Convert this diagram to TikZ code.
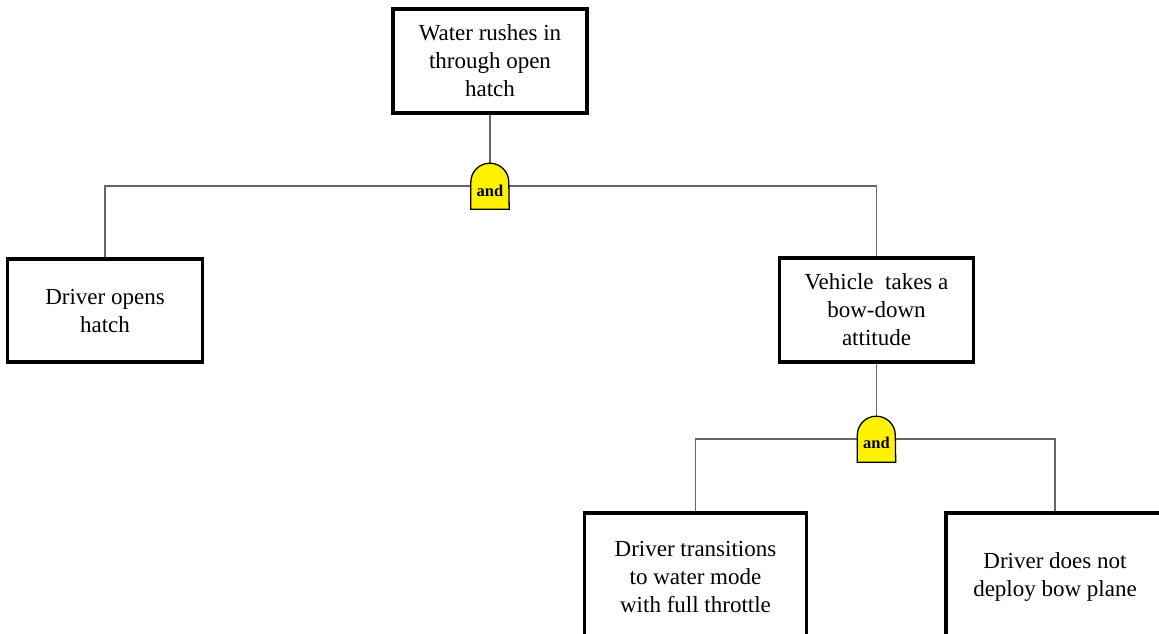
\documentclass[tikz,border=0pt]{standalone}
\usepackage{fontspec}
\setmainfont{Liberation Serif}
\pgfdeclarelayer{background}
\pgfsetlayers{background,main}
\tikzset{
  event/.style={draw=black, line width=3.5pt, fill=white, align=center,
    inner sep=0pt, font=\fontsize{23}{28}\selectfont},
  gatenode/.style={minimum width=38pt, minimum height=46pt, inner sep=0pt},
  gateshape/.style={draw=black, line width=1.3pt, fill=yellow},
  gatelabel/.style={font=\bfseries\fontsize{16.5}{18}\selectfont, inner sep=0pt},
  link/.style={draw=black!60, line width=1.3pt},
}
\begin{document}
\begin{tikzpicture}[x=1pt, y=1pt]
  \useasboundingbox (0,0) rectangle (1159,-633);
  \clip (0,0) rectangle (1159,-633);

  % events
  \node[event, minimum width=194pt, minimum height=104pt] (top) at (490,-61)
    {Water rushes in\\through open\\hatch};
  \node[event, minimum width=195pt, minimum height=103pt] (opens) at (105,-310.5)
    {Driver opens\\hatch};
  \node[event, minimum width=194pt, minimum height=104pt] (bow) at (876.5,-310)
    {Vehicle\ \ takes a\\bow-down\\attitude};
  \node[event, minimum width=222pt, minimum height=127pt] (throttle) at (695.5,-576.5)
    {Driver transitions\\to water mode\\with full throttle};
  \node[event, minimum width=218pt, minimum height=127pt] (plane) at (1055,-576.5)
    {Driver does not\\deploy bow plane};

  % AND gates (anchors only; outline drawn below)
  \node[gatenode] (g1) at (490,-186) {};
  \node[gatenode] (g2) at (876.5,-439) {};

  % connectors behind the gates
  \begin{pgfonlayer}{background}
    \draw[link] (top.south) -- (g1.north);
    \draw[link] (opens.north) |- (g1.center) -| (bow.north);
    \draw[link] (bow.south) -- (g2.north);
    \draw[link] (throttle.north) |- (g2.center) -| (plane.north);
  \end{pgfonlayer}

  % gate outlines: straight sides with a semicircular top
  \foreach \g in {g1,g2}{
    \draw[gateshape] (\g.south west) -- ++(0,27pt)
      arc[start angle=180, end angle=0, radius=19pt]
      -- (\g.south east) -- cycle;
  }
  \node[gatelabel] (l1) at ([yshift=-5pt]g1.center) {and};
  \node[gatelabel] (l2) at ([yshift=-4pt]g2.center) {and};
\end{tikzpicture}
\end{document}
